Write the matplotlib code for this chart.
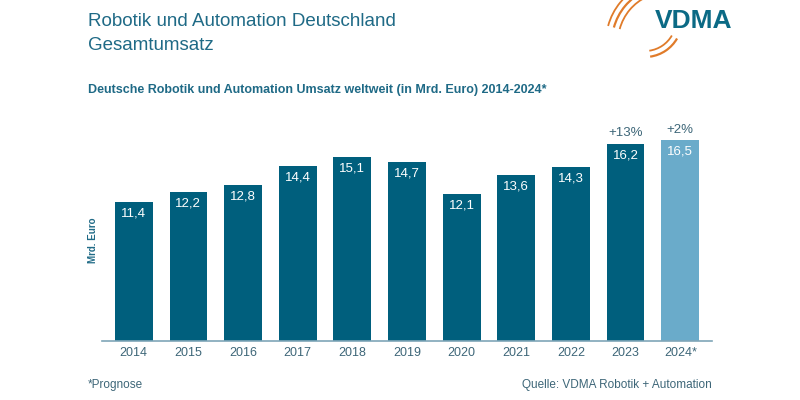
import matplotlib.pyplot as plt
from matplotlib.patches import Arc

plt.rcParams['font.family'] = ['Liberation Sans', 'DejaVu Sans']

years = ['2014', '2015', '2016', '2017', '2018', '2019', '2020', '2021', '2022', '2023', '2024*']
umsatz = [11.4, 12.2, 12.8, 14.4, 15.1, 14.7, 12.1, 13.6, 14.3, 16.2, 16.5]
growth = {'2023': '+13%', '2024*': '+2%'}

dark = '#005f7d'
light = '#6aabca'
text_col = '#1f6a86'
tick_col = '#3d6678'

fig = plt.figure(figsize=(8, 4), dpi=100)
ax = fig.add_axes([102 / 800, 1 - 341 / 400, 610 / 800, (341 - 110) / 400])

colors = [light if y.endswith('*') else dark for y in years]
x = range(len(years))
bars = ax.bar(x, umsatz, width=0.69, color=colors)

for b, v, y in zip(bars, umsatz, years):
    ax.text(b.get_x() + b.get_width() / 2, v - 0.45, f'{v:.1f}'.replace('.', ','),
            ha='center', va='top', color='white', fontsize=9.5)
    if y in growth:
        ax.text(b.get_x() + b.get_width() / 2, v + 0.35, growth[y],
                ha='center', va='bottom', color=tick_col, fontsize=9.5)

ax.set_xlim(-0.58, len(years) - 1 + 0.58)
ax.set_ylim(0, 18.97)
ax.set_xticks(list(x))
ax.set_xticklabels(years, color=tick_col, fontsize=9)
ax.tick_params(axis='x', length=0, pad=4)
ax.set_yticks([])
for s in ['top', 'right', 'left']:
    ax.spines[s].set_visible(False)
ax.spines['bottom'].set_color('#7fa6b8')
ax.spines['bottom'].set_linewidth(1.2)

fig.text(93 / 800, 1 - 240 / 400, 'Mrd. Euro', rotation=90, ha='center', va='center',
         color=text_col, fontsize=7, fontweight='bold')

fig.text(88 / 800, 1 - 22 / 400, 'Robotik und Automation Deutschland', color=text_col,
         fontsize=13.5, va='center')
fig.text(88 / 800, 1 - 46 / 400, 'Gesamtumsatz', color=text_col, fontsize=13.5, va='center')
fig.text(88 / 800, 1 - 90 / 400, 'Deutsche Robotik und Automation Umsatz weltweit (in Mrd. Euro) 2014-2024*',
         color=text_col, fontsize=9, fontweight='bold', va='center')

fig.text(88 / 800, 1 - 385 / 400, '*Prognose', color=tick_col, fontsize=8.5, va='center')
fig.text(712 / 800, 1 - 385 / 400, 'Quelle: VDMA Robotik + Automation', color=tick_col,
         fontsize=8.5, va='center', ha='right')

# logo
fig.text(655 / 800, 1 - 21 / 400, 'VDMA', color='#0b6a85', fontsize=19, fontweight='bold', va='center')
logo = fig.add_axes([590 / 800, 1 - 60 / 400, 110 / 800, 60 / 400])
logo.set_xlim(590, 700)
logo.set_ylim(60, 0)
logo.axis('off')
orange = '#e07b2a'
for r, w in [(50, 1.3), (56, 1.6), (62, 1.3)]:
    logo.add_patch(Arc((668, 42), 2 * r, 2 * r, theta1=195, theta2=245, color=orange, lw=w))
for r, w in [(31, 1.3), (37, 1.6)]:
    logo.add_patch(Arc((645, 20), 2 * r, 2 * r, theta1=30, theta2=82, color=orange, lw=w))

fig.savefig('out.png', dpi=100)
